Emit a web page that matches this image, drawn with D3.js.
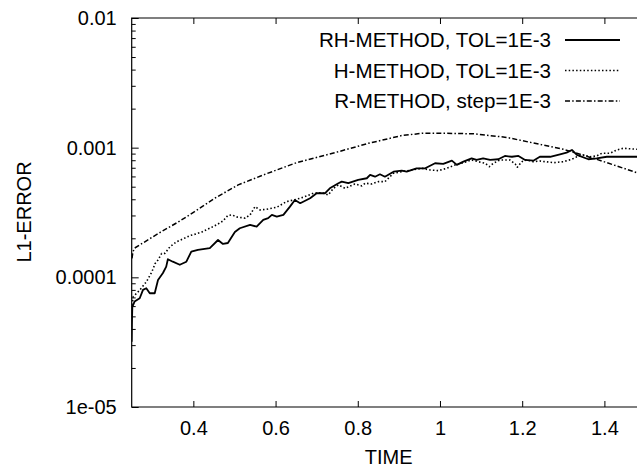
<!DOCTYPE html>
<html>
<head>
<meta charset="utf-8">
<script src="https://cdn.jsdelivr.net/npm/d3@7"></script>
<style>
  body { margin: 0; background: #fff; }
  svg { display: block; font-family: "Liberation Sans", Arial, sans-serif; }
</style>
</head>
<body>
<div id="canvas"></div>
<script>
"use strict"

/* chart size */
let svgWidth = 637;
let svgHeight = 467;

let plotLeft = 131.7;
let plotRight = 645.5; // right border is cut off by the picture
let plotTop = 18;
let plotBottom = 407;

// DATA

let xTicks = [0.4, 0.6, 0.8, 1, 1.2, 1.4];
let yTicks = [1e-5, 1e-4, 1e-3, 1e-2];
let yTickLabels = ["1e-05", "0.0001", "0.001", "0.01"];

let seriesNames = ["RH-METHOD, TOL=1E-3", "H-METHOD, TOL=1E-3", "R-METHOD, step=1E-3"];

let rhTime = [0.250, 0.2505, 0.2515, 0.257, 0.2695, 0.2775, 0.2855, 0.294, 0.306, 0.314, 0.326, 0.334,
  0.338, 0.350, 0.367, 0.383, 0.395, 0.411, 0.440, 0.460, 0.472, 0.484, 0.501, 0.513, 0.538, 0.554,
  0.570, 0.582, 0.591, 0.603, 0.619, 0.635, 0.647, 0.660, 0.684, 0.700, 0.720, 0.732, 0.753, 0.761,
  0.777, 0.801, 0.822, 0.830, 0.842, 0.854, 0.866, 0.887, 0.907, 0.919, 0.943, 0.964, 0.988, 1.008,
  1.029, 1.041, 1.057, 1.077, 1.089, 1.105, 1.122, 1.142, 1.158, 1.175, 1.191, 1.207, 1.227, 1.243,
  1.268, 1.292, 1.308, 1.321, 1.333, 1.361, 1.381, 1.406, 1.438, 1.479, 1.500];
let rhError = [3.18e-5, 4.30e-5, 5.91e-5, 6.50e-5, 6.90e-5, 8.00e-5, 8.24e-5, 7.54e-5, 7.54e-5, 9.55e-5, 1.08e-4, 1.21e-4,
  1.38e-4, 1.32e-4, 1.25e-4, 1.32e-4, 1.58e-4, 1.63e-4, 1.68e-4, 1.94e-4, 1.81e-4, 1.84e-4, 2.24e-4, 2.39e-4, 2.54e-4, 2.46e-4,
  2.77e-4, 2.86e-4, 3.03e-4, 2.94e-4, 3.03e-4, 3.51e-4, 3.95e-4, 3.73e-4, 4.07e-4, 4.45e-4, 4.45e-4, 4.86e-4, 5.32e-4, 5.47e-4,
  5.32e-4, 5.64e-4, 5.81e-4, 6.16e-4, 5.97e-4, 6.23e-4, 5.97e-4, 6.53e-4, 6.65e-4, 6.53e-4, 6.93e-4, 6.93e-4, 7.58e-4, 7.49e-4,
  7.94e-4, 7.36e-4, 7.80e-4, 8.28e-4, 8.04e-4, 8.28e-4, 8.04e-4, 8.14e-4, 8.63e-4, 8.51e-4, 8.63e-4, 8.04e-4, 7.94e-4, 8.51e-4,
  8.51e-4, 8.89e-4, 9.15e-4, 9.60e-4, 8.79e-4, 8.14e-4, 8.28e-4, 8.51e-4, 8.51e-4, 8.51e-4, 8.50e-4];

let hTime = [0.2507, 0.254, 0.270, 0.286, 0.299, 0.307, 0.314, 0.323, 0.331, 0.343, 0.359, 0.375,
  0.392, 0.406, 0.421, 0.436, 0.448, 0.460, 0.472, 0.484, 0.494, 0.506, 0.526, 0.538, 0.550, 0.562,
  0.578, 0.603, 0.627, 0.651, 0.668, 0.692, 0.712, 0.728, 0.741, 0.753, 0.769, 0.793, 0.810, 0.818,
  0.834, 0.850, 0.866, 0.887, 0.907, 0.931, 0.956, 0.976, 0.996, 1.016, 1.037, 1.057, 1.077, 1.093,
  1.110, 1.120, 1.130, 1.146, 1.170, 1.183, 1.188, 1.199, 1.211, 1.227, 1.243, 1.276, 1.300, 1.321,
  1.333, 1.349, 1.365, 1.381, 1.394, 1.414, 1.430, 1.446, 1.479, 1.500];
let hError = [6.12e-5, 7.10e-5, 8.00e-5, 9.27e-5, 1.10e-4, 1.28e-4, 1.36e-4, 1.53e-4, 1.53e-4, 1.72e-4, 1.88e-4, 1.98e-4,
  2.10e-4, 2.16e-4, 2.24e-4, 2.36e-4, 2.46e-4, 2.58e-4, 2.72e-4, 3.00e-4, 3.03e-4, 2.92e-4, 2.86e-4, 3.03e-4, 3.51e-4, 3.31e-4,
  3.35e-4, 3.47e-4, 3.84e-4, 4.00e-4, 4.15e-4, 4.45e-4, 4.50e-4, 4.32e-4, 4.86e-4, 5.16e-4, 4.86e-4, 5.25e-4, 5.07e-4, 5.32e-4,
  5.25e-4, 5.47e-4, 5.47e-4, 6.35e-4, 6.53e-4, 6.73e-4, 6.93e-4, 6.73e-4, 6.65e-4, 6.93e-4, 7.36e-4, 7.66e-4, 8.04e-4, 7.80e-4,
  7.58e-4, 7.14e-4, 7.58e-4, 8.04e-4, 8.04e-4, 7.49e-4, 7.06e-4, 7.80e-4, 8.04e-4, 7.80e-4, 7.89e-4, 7.66e-4, 7.80e-4, 8.14e-4,
  8.51e-4, 8.79e-4, 8.51e-4, 8.63e-4, 9.06e-4, 9.06e-4, 9.60e-4, 9.89e-4, 9.72e-4, 9.70e-4];

let rTime = [0.2507, 0.253, 0.257, 0.282, 0.322, 0.363, 0.403, 0.453, 0.509, 0.570, 0.651, 0.753,
  0.826, 0.907, 0.956, 1.012, 1.081, 1.162, 1.243, 1.300, 1.381, 1.479, 1.500];
let rError = [1.40e-4, 1.57e-4, 1.68e-4, 1.88e-4, 2.25e-4, 2.67e-4, 3.21e-4, 4.09e-4, 5.16e-4, 6.16e-4, 7.66e-4, 9.31e-4,
  1.08e-3, 1.24e-3, 1.29e-3, 1.29e-3, 1.28e-3, 1.20e-3, 1.06e-3, 9.72e-4, 8.14e-4, 6.41e-4, 6.05e-4];

// line styles: solid, dotted, dash-dot
let dashes = [null, "1.5,2.2", "5,2.2,1.5,2.2"];

// CANVAS

let svg = d3.select("#canvas")
  .append("svg")
  .attr("width", svgWidth)
  .attr("height", svgHeight);

let xScale = d3.scaleLinear()
  .domain([0.25, 1.5])
  .range([plotLeft, plotRight]);

let yScale = d3.scaleLog()
  .domain([1e-5, 1e-2])
  .range([plotBottom, plotTop]);

// minor log ticks
let minorTicks = [];
for (let d = 1e-5; d < 1e-2; d *= 10) {
  for (let k = 2; k <= 9; k++) minorTicks.push(d * k);
}

// AXES

let yAxis = svg.append("g")
  .attr("transform", "translate(" + plotLeft + ",0)")
  .call(d3.axisLeft(yScale)
    .tickValues(yTicks)
    .tickFormat(function (d, i) { return yTickLabels[i]; })
    .tickSize(-7)
    .tickPadding(15));

svg.append("g")
  .attr("transform", "translate(" + plotLeft + ",0)")
  .call(d3.axisLeft(yScale)
    .tickValues(minorTicks)
    .tickFormat("")
    .tickSize(-4));

let xAxis = svg.append("g")
  .attr("transform", "translate(0," + plotBottom + ")")
  .call(d3.axisBottom(xScale)
    .tickValues(xTicks)
    .tickFormat(d3.format("~g"))
    .tickSize(-6)
    .tickPadding(14));

svg.append("g")
  .attr("transform", "translate(0," + plotTop + ")")
  .call(d3.axisTop(xScale)
    .tickValues(xTicks)
    .tickFormat("")
    .tickSize(-6));

svg.selectAll(".domain").remove();
svg.selectAll(".tick line").attr("stroke", "#000").attr("stroke-width", 1);
svg.selectAll(".tick text")
  .attr("fill", "#000")
  .style("font-family", "'Liberation Sans', Arial, sans-serif")
  .style("font-size", "20px");

/* border (left, top, bottom) */
svg.append("path")
  .attr("d", "M" + plotRight + "," + plotTop + "H" + plotLeft + "V" + plotBottom + "H" + plotRight)
  .attr("fill", "none")
  .attr("stroke", "#000")
  .attr("stroke-width", 1.2);

// LINES

svg.append("clipPath")
  .attr("id", "plotClip")
  .append("rect")
  .attr("x", plotLeft)
  .attr("y", plotTop)
  .attr("width", plotRight - plotLeft)
  .attr("height", plotBottom - plotTop);

let line = d3.line()
  .x(function (d) { return xScale(d[0]); })
  .y(function (d) { return yScale(d[1]); });

let series = [
  d3.zip(rhTime, rhError),
  d3.zip(hTime, hError),
  d3.zip(rTime, rError)
];

let widths = [1.8, 1.6, 1.5];

for (let i = 0; i < series.length; i++) {
  svg.append("path")
    .datum(series[i])
    .attr("clip-path", "url(#plotClip)")
    .attr("fill", "none")
    .attr("stroke", "#000")
    .attr("stroke-width", widths[i])
    .attr("stroke-linejoin", "round")
    .attr("stroke-dasharray", dashes[i])
    .attr("d", line);
}

// LEGEND

for (let i = 0; i < seriesNames.length; i++) {
  let ly = 40 + i * 30.5;
  svg.append("text")
    .attr("x", 551)
    .attr("y", ly)
    .attr("dy", "0.35em")
    .style("text-anchor", "end")
    .style("font-size", "20.6px")
    .attr("fill", "#000")
    .text(seriesNames[i]);

  svg.append("line")
    .attr("x1", 565)
    .attr("x2", 620)
    .attr("y1", ly)
    .attr("y2", ly)
    .attr("stroke", "#000")
    .attr("stroke-width", widths[i])
    .attr("stroke-dasharray", dashes[i]);
}

// AXIS LABELS

svg.append("text")
  .attr("x", (plotLeft + plotRight) / 2)
  .attr("y", 464)
  .style("text-anchor", "middle")
  .style("font-size", "20px")
  .text("TIME");

svg.append("text")
  .attr("transform", "translate(31,212) rotate(-90)")
  .style("text-anchor", "middle")
  .style("font-size", "20px")
  .text("L1-ERROR");
</script>
</body>
</html>
